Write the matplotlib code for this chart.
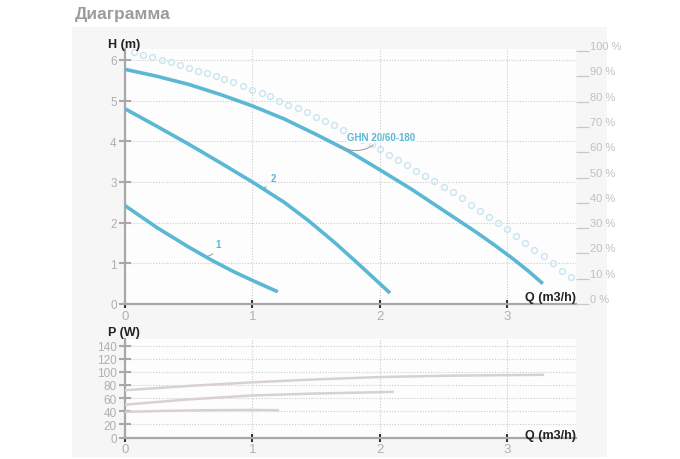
import numpy as np
import matplotlib
matplotlib.use("Agg")
import matplotlib.pyplot as plt
from matplotlib.patches import Rectangle

plt.rcParams["font.family"] = ["Liberation Sans", "DejaVu Sans"]

# pump head curves, Q (m3/h) -> H (m)
q_max = [0, 0.25, 0.5, 0.75, 1.0, 1.25, 1.5, 1.75, 2.0, 2.25, 2.5, 2.75, 2.9, 3.05, 3.17, 3.28]
h_max = [5.77, 5.6, 5.4, 5.15, 4.87, 4.55, 4.17, 3.77, 3.3, 2.82, 2.3, 1.78, 1.45, 1.1, 0.8, 0.5]
q_2 = [0, 0.25, 0.5, 0.75, 1.0, 1.25, 1.44, 1.65, 1.82, 2.0, 2.08]
h_2 = [4.8, 4.37, 3.93, 3.47, 3.0, 2.5, 2.05, 1.5, 1.02, 0.5, 0.27]
q_1 = [0, 0.25, 0.5, 0.69, 0.85, 1.0, 1.2]
h_1 = [2.42, 1.88, 1.4, 1.06, 0.8, 0.58, 0.3]

# efficiency points (%)
q_eff = [0.071, 0.144, 0.214, 0.288, 0.359, 0.432, 0.503, 0.571, 0.642, 0.712,
         0.780, 0.851, 0.925, 1.0, 1.074, 1.139, 1.212, 1.283, 1.357, 1.427,
         1.498, 1.571, 1.644, 1.715, 1.788, 1.861, 1.938, 2.003, 2.076, 2.139,
         2.213, 2.286, 2.357, 2.427, 2.5, 2.571, 2.645, 2.716, 2.783, 2.859,
         2.928, 2.998, 3.071, 3.137, 3.207, 3.286, 3.357, 3.43, 3.501]
eff = [99.5, 98.5, 97.5, 96.4, 95.5, 94.5, 93.4, 92.2, 91.4, 90.0,
       88.9, 87.6, 86.3, 84.7, 83.4, 82.1, 80.4, 78.8, 77.5, 75.8,
       74.0, 72.5, 70.8, 68.9, 67.0, 65.0, 63.2, 61.3, 58.9, 57.0,
       54.9, 52.7, 50.7, 48.5, 46.4, 44.2, 41.8, 39.1, 36.9, 34.3,
       32.0, 29.6, 27.0, 24.1, 21.5, 19.1, 16.1, 13.2, 10.6]

# power curves, Q (m3/h) -> P (W)
qp_max = [0, 0.5, 1.0, 1.5, 2.0, 2.5, 3.0, 3.28]
p_max = [72, 78.5, 84, 88.5, 92, 94, 95, 95.5]
qp_2 = [0, 0.5, 1.0, 1.5, 2.0, 2.1]
p_2 = [50, 58, 64, 67, 69, 69.5]
qp_1 = [0, 0.3, 0.6, 1.0, 1.2]
p_1 = [39, 40.5, 41.5, 42, 41.5]

h_ticks = [0, 1, 2, 3, 4, 5, 6]
eff_ticks = list(range(0, 101, 10))
p_ticks = list(range(0, 141, 20))
q_ticks = [0, 1, 2, 3]

blue = "#5bb8d4"
circ = "#c8e5ef"
pcol = "#d9d1d1"
tickgray = "#b0b0b0"
spinegray = "#a8a8a8"
gridc = "#cccccc"

W, H = 680, 460
fig = plt.figure(figsize=(6.8, 4.6), dpi=100)
fig.patch.set_facecolor("white")
fig.patches.append(Rectangle((72 / W, 1 - 458 / H), 535 / W, 430 / H,
                             transform=fig.transFigure, facecolor="#f6f6f6",
                             edgecolor="none", zorder=-10))

ax_h = fig.add_axes([125 / W, 1 - 305 / H, 451 / W, 255 / H])
ax_p = fig.add_axes([125 / W, 1 - 438.5 / H, 451 / W, 98.5 / H])

for ax in (ax_h, ax_p):
    ax.set_facecolor("#fdfdfd")
    ax.set_xlim(0, 3.54)
    ax.set_xticks(q_ticks)
    for s in ("top", "right"):
        ax.spines[s].set_visible(False)
    for s in ("left", "bottom"):
        ax.spines[s].set_color(spinegray)
        ax.spines[s].set_linewidth(1.6)
    ax.grid(True, linestyle=(0, (1, 1.5)), color=gridc, linewidth=0.8)
    ax.set_axisbelow(True)
    ax.tick_params(axis="y", direction="inout", length=8, width=1.5,
                   color=spinegray, labelcolor=tickgray, labelsize=8.5, pad=2)
    ax.tick_params(axis="x", direction="inout", length=6, width=1.5,
                   color="#333333", labelcolor=tickgray, labelsize=9.5, pad=1)

# head panel
ax_h.set_ylim(0, 6.27)
ax_h.set_yticks(h_ticks)
ax_h.plot(q_max, h_max, color=blue, lw=2.6, solid_capstyle="butt", zorder=3)
ax_h.plot(q_2, h_2, color=blue, lw=2.6, solid_capstyle="butt", zorder=3)
ax_h.plot(q_1, h_1, color=blue, lw=2.6, solid_capstyle="butt", zorder=3)

ax_e = ax_h.twinx()
ax_e.set_ylim(0, 6.27 / 6.22 * 100)
for s in ax_e.spines.values():
    s.set_visible(False)
ax_e.plot(q_eff, eff, linestyle="none", marker="o", markersize=4.2,
          markerfacecolor="none", markeredgecolor=circ, markeredgewidth=1.0)
ax_e.set_yticks(eff_ticks)
ax_e.set_yticklabels([f"{v} %" for v in eff_ticks])
ax_e.tick_params(axis="y", direction="out", length=9, width=0.9, color="#c8c8c8",
                 labelcolor="#c0c0c0", labelsize=8, pad=1)
for lbl in ax_e.get_yticklabels():
    lbl.set_va("bottom")

lead = dict(arrowstyle="-", color="#9a9a9a", lw=0.7, connectionstyle="arc3,rad=-0.4")
ax_e.annotate("GHN 20/60-180", xy=(1.67, np.interp(1.67, q_max, h_max) / 6.22 * 100),
              xytext=(7, 6), textcoords="offset points", ha="left", va="center",
              color=blue, fontsize=7, fontweight="bold", arrowprops=lead,
              bbox=dict(boxstyle="square,pad=0.1", fc="#fdfdfd", ec="none"))
ax_e.annotate("2", xy=(1.07, np.interp(1.07, q_2, h_2) / 6.22 * 100),
              xytext=(7, 7), textcoords="offset points", ha="left", va="center",
              color=blue, fontsize=7, fontweight="bold", arrowprops=lead)
ax_e.annotate("1", xy=(0.63, np.interp(0.63, q_1, h_1) / 6.22 * 100),
              xytext=(7, 9), textcoords="offset points", ha="left", va="center",
              color=blue, fontsize=7, fontweight="bold", arrowprops=lead)

ax_h.text(1.0, 0.027, "Q (m3/h)", transform=ax_h.transAxes, ha="right", va="center",
          fontsize=9, fontweight="bold", color="#222222")

# power panel
ax_p.set_ylim(0, 150)
ax_p.set_yticks(p_ticks)
ax_p.plot(qp_max, p_max, color=pcol, lw=1.8, zorder=3)
ax_p.plot(qp_2, p_2, color=pcol, lw=1.8, zorder=3)
ax_p.plot(qp_1, p_1, color=pcol, lw=1.8, zorder=3)
ax_p.text(1.0, 0.03, "Q (m3/h)", transform=ax_p.transAxes, ha="right", va="center",
          fontsize=9, fontweight="bold", color="#222222")

fig.text(108 / W, 1 - 45 / H, "H (m)", ha="left", va="center", fontsize=9,
         fontweight="bold", color="#222222")
fig.text(108 / W, 1 - 333 / H, "P (W)", ha="left", va="center", fontsize=9,
         fontweight="bold", color="#222222")
fig.text(75 / W, 1 - 14 / H, "Диаграмма", ha="left", va="center", fontsize=12.5,
         fontweight="bold", color="#9c9c9c")

fig.savefig("out.png", dpi=100)
